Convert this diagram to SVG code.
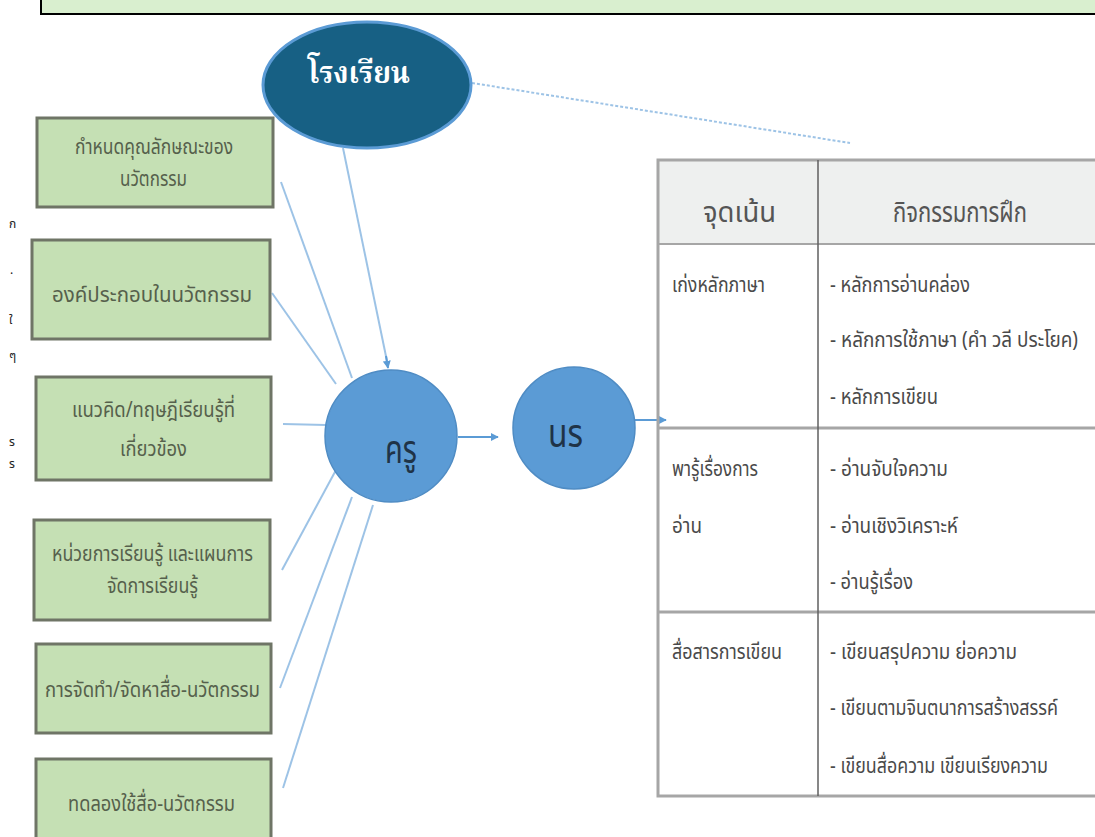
<svg xmlns="http://www.w3.org/2000/svg" width="1095" height="837" viewBox="0 0 1095 837">
<style>
.box{fill:#c5e0b4;stroke:#6f7566;stroke-width:3}
.bt{font-family:"Noto Sans Thai","Noto Sans","DejaVu Sans",sans-serif;font-size:22px;fill:#56604c}
.tt{font-family:"Noto Sans Thai","Noto Sans","DejaVu Sans",sans-serif;font-size:21px;fill:#4a4a4a}
.th{font-family:"Noto Sans Thai","Noto Sans","DejaVu Sans",sans-serif;font-size:28px;fill:#555555}
.cl{font-family:"Noto Sans Thai","Noto Sans","DejaVu Sans",sans-serif;font-size:40px;fill:#1f3347}
.con{stroke:#9dc3e6;stroke-width:2;fill:none}
.arr{stroke:#5b9bd5;stroke-width:2;fill:none}
.frag{font-family:"Noto Sans Thai","Noto Sans",sans-serif;font-size:12px;fill:#222}
</style>
<defs>
<marker id="ah" viewBox="0 0 10 10" refX="9" refY="5" markerWidth="4" markerHeight="4" orient="auto">
<path d="M0,0 L10,5 L0,10 z" fill="#5b9bd5"/>
</marker>
</defs>
<rect width="1095" height="837" fill="#ffffff"/>
<g id="banner">
<rect x="41" y="-10" width="1070" height="24" fill="#d9efcf" stroke="#000" stroke-width="2"/>
</g>
<g id="fragments">
<text class="frag" x="9" y="228">ก</text>
<text class="frag" x="10" y="278">·</text>
<text class="frag" x="9" y="324">ใ</text>
<text class="frag" x="9" y="360">ๆ</text>
<text class="frag" x="9" y="446">ร</text>
<text class="frag" x="9" y="468">ร</text>
</g>
<g id="connectors">
<line class="con" x1="343" y1="148" x2="388" y2="366"/>
<line class="arr" x1="386" y1="356" x2="388" y2="368" marker-end="url(#ah)"/>
<line class="con" x1="472" y1="83" x2="850" y2="143" stroke="#bdd7ee" stroke-dasharray="3 2"/>
<line class="con" x1="281" y1="182" x2="352" y2="378"/>
<line class="con" x1="272" y1="293" x2="336" y2="384"/>
<line class="con" x1="283" y1="424" x2="326" y2="425" stroke-width="3" stroke="#bdd7ee"/>
<line class="con" x1="282" y1="570" x2="336" y2="470"/>
<line class="con" x1="280" y1="688" x2="352" y2="497"/>
<line class="con" x1="283" y1="788" x2="373" y2="505"/>
<line class="arr" x1="458" y1="437" x2="498" y2="437" marker-end="url(#ah)"/>
<line class="arr" x1="635" y1="420" x2="666" y2="420" marker-end="url(#ah)"/>
</g>
<g id="school">
<ellipse cx="367" cy="85" rx="104" ry="63" fill="#176084" stroke="#5b9bd5" stroke-width="3"/>
<text x="308" y="83" font-family="'Noto Serif Thai','Noto Sans Thai','Noto Sans',serif" font-size="30" font-weight="bold" fill="#ffffff" textLength="102" lengthAdjust="spacingAndGlyphs">โรงเรียน</text>
</g>
<g id="teacher">
<circle cx="391" cy="436" r="66" fill="#5b9bd5" stroke="#4f8cc4" stroke-width="1.5"/>
<text class="cl" x="385" y="463" textLength="32" lengthAdjust="spacingAndGlyphs">ครู</text>
</g>
<g id="student">
<circle cx="574" cy="428" r="61" fill="#5b9bd5" stroke="#4f8cc4" stroke-width="1.5"/>
<text class="cl" x="548" y="447" textLength="35" lengthAdjust="spacingAndGlyphs">นร</text>
</g>
<g id="box1">
<rect class="box" x="37" y="118" width="236" height="89"/>
<text class="bt" x="75" y="154" textLength="158" lengthAdjust="spacingAndGlyphs">กำหนดคุณลักษณะของ</text>
<text class="bt" x="120" y="186" textLength="67" lengthAdjust="spacingAndGlyphs">นวัตกรรม</text>
</g>
<g id="box2">
<rect class="box" x="32" y="240" width="238" height="99"/>
<text class="bt" x="52" y="302" textLength="200" lengthAdjust="spacingAndGlyphs">องค์ประกอบในนวัตกรรม</text>
</g>
<g id="box3">
<rect class="box" x="36" y="377" width="235" height="103"/>
<text class="bt" x="72" y="417" textLength="163" lengthAdjust="spacingAndGlyphs">แนวคิด/ทฤษฎีเรียนรู้ที่</text>
<text class="bt" x="120" y="456" textLength="67" lengthAdjust="spacingAndGlyphs">เกี่ยวข้อง</text>
</g>
<g id="box4">
<rect class="box" x="34" y="520" width="236" height="100"/>
<text class="bt" x="52" y="561" textLength="201" lengthAdjust="spacingAndGlyphs">หน่วยการเรียนรู้ และแผนการ</text>
<text class="bt" x="107" y="593" textLength="91" lengthAdjust="spacingAndGlyphs">จัดการเรียนรู้</text>
</g>
<g id="box5">
<rect class="box" x="36" y="644" width="235" height="89"/>
<text class="bt" x="45" y="697" textLength="215" lengthAdjust="spacingAndGlyphs">การจัดทำ/จัดหาสื่อ-นวัตกรรม</text>
</g>
<g id="box6">
<rect class="box" x="36" y="759" width="235" height="90"/>
<text class="bt" x="68" y="811" textLength="167" lengthAdjust="spacingAndGlyphs">ทดลองใช้สื่อ-นวัตกรรม</text>
</g>
<g id="table">
<rect x="658" y="160" width="445" height="84" fill="#eef0ef"/>
<rect x="658" y="160" width="445" height="636" fill="none" stroke="#a6a6a6" stroke-width="3"/>
<line x1="658" y1="244" x2="1095" y2="244" stroke="#a6a6a6" stroke-width="2"/>
<line x1="658" y1="428" x2="1095" y2="428" stroke="#a6a6a6" stroke-width="3"/>
<line x1="658" y1="612" x2="1095" y2="612" stroke="#a6a6a6" stroke-width="3"/>
<line x1="818" y1="160" x2="818" y2="796" stroke="#5f5f5f" stroke-width="1.5"/>
<text class="th" x="703" y="222" textLength="73" lengthAdjust="spacingAndGlyphs">จุดเน้น</text>
<text class="th" x="893" y="222" textLength="134" lengthAdjust="spacingAndGlyphs">กิจกรรมการฝึก</text>
<text class="tt" x="672" y="292" textLength="93" lengthAdjust="spacingAndGlyphs">เก่งหลักภาษา</text>
<text class="tt" x="830" y="292" textLength="140" lengthAdjust="spacingAndGlyphs">- หลักการอ่านคล่อง</text>
<text class="tt" x="830" y="347" textLength="248" lengthAdjust="spacingAndGlyphs">- หลักการใช้ภาษา (คำ วลี ประโยค)</text>
<text class="tt" x="830" y="404" textLength="108" lengthAdjust="spacingAndGlyphs">- หลักการเขียน</text>
<text class="tt" x="672" y="476" textLength="86" lengthAdjust="spacingAndGlyphs">พารู้เรื่องการ</text>
<text class="tt" x="672" y="533" textLength="30" lengthAdjust="spacingAndGlyphs">อ่าน</text>
<text class="tt" x="830" y="476" textLength="118" lengthAdjust="spacingAndGlyphs">- อ่านจับใจความ</text>
<text class="tt" x="830" y="533" textLength="128" lengthAdjust="spacingAndGlyphs">- อ่านเชิงวิเคราะห์</text>
<text class="tt" x="830" y="589" textLength="83" lengthAdjust="spacingAndGlyphs">- อ่านรู้เรื่อง</text>
<text class="tt" x="672" y="659" textLength="110" lengthAdjust="spacingAndGlyphs">สื่อสารการเขียน</text>
<text class="tt" x="830" y="659" textLength="187" lengthAdjust="spacingAndGlyphs">- เขียนสรุปความ  ย่อความ</text>
<text class="tt" x="830" y="715" textLength="228" lengthAdjust="spacingAndGlyphs">- เขียนตามจินตนาการสร้างสรรค์</text>
<text class="tt" x="830" y="773" textLength="218" lengthAdjust="spacingAndGlyphs">- เขียนสื่อความ เขียนเรียงความ</text>
</g>
</svg>
